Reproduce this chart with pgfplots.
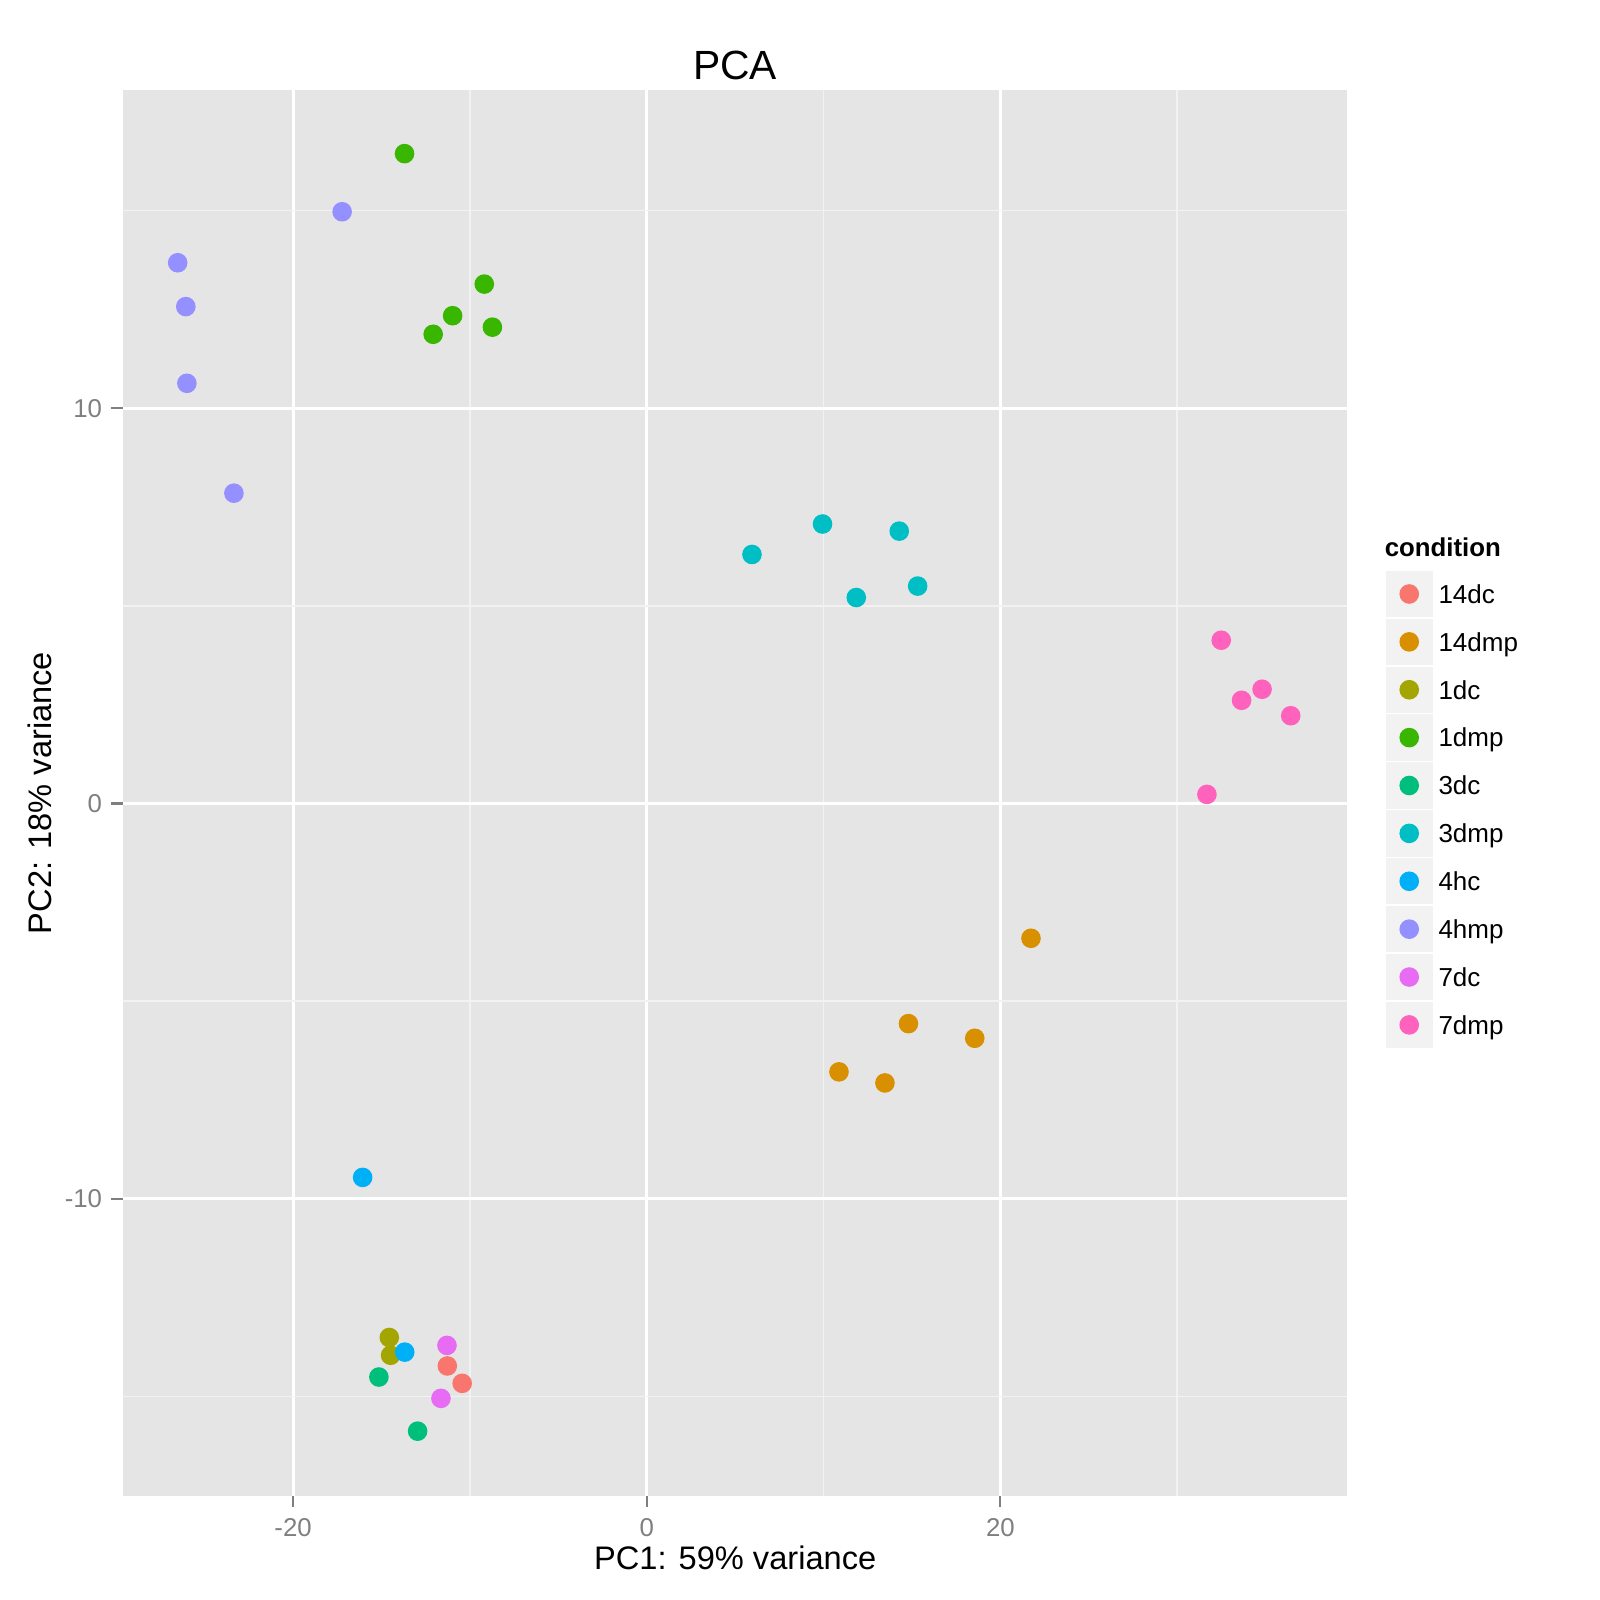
\documentclass[border=0pt]{standalone}
\usepackage{fontspec}
\setmainfont{Liberation Sans}
\usepackage{pgfplots}
\pgfplotsset{compat=1.18}
\definecolor{c14dc}{HTML}{F8766D}
\definecolor{c14dmp}{HTML}{D89000}
\definecolor{c1dc}{HTML}{A3A500}
\definecolor{c1dmp}{HTML}{39B600}
\definecolor{c3dc}{HTML}{00BF7D}
\definecolor{c3dmp}{HTML}{00BFC4}
\definecolor{c4hc}{HTML}{00B0F6}
\definecolor{c4hmp}{HTML}{9590FF}
\definecolor{c7dc}{HTML}{E76BF3}
\definecolor{c7dmp}{HTML}{FF62BC}
\definecolor{bgpanel}{HTML}{E5E5E5}
\definecolor{minorgrid}{HTML}{F2F2F2}
\definecolor{tickgray}{HTML}{7F7F7F}
\begin{document}
\begin{tikzpicture}
\path[use as bounding box] (0,0) rectangle (400pt,400pt);
\begin{axis}[
 scale only axis, width=306.2pt, height=351.5pt,
 at={(30.675pt,26pt)}, anchor=south west,
 xmin=-29.64, xmax=39.63, ymin=-17.52, ymax=18.05,
 axis background/.style={fill=bgpanel},
 axis line style={draw=none},
 xtick={-20,0,20}, xticklabels={-20,0,20},
 ytick={-10,0,10}, yticklabels={-10,0,10},
 minor xtick={-10,10,30}, minor ytick={-15,-5,5,15},
 grid=both,
 major grid style={white, line width=0.75pt},
 minor grid style={minorgrid, line width=0.4pt},
 tick align=outside, major tick length=2.8pt, minor tick length=0pt,
 xtick pos=bottom, ytick pos=left,
 major tick style={tickgray, line width=0.55pt},
 tick label style={font=\fontsize{6.45}{7}\selectfont, text=tickgray, inner sep=0pt},
 xticklabel shift=2.5pt, yticklabel shift=2.15pt,
 legend style={at={(1.0314,0.658)}, anchor=north west, draw=none, fill=none,
   inner sep=0pt, outer sep=0pt, row sep=0.4pt, column sep=1.5pt,
   nodes={inner sep=0pt, outer sep=0pt, text height=4.65pt, text depth=0pt, font=\fontsize{6.5}{7}\selectfont}},
 legend cell align=left,
 legend image code/.code={\fill[minorgrid] (-5.625pt,-5.585pt) rectangle (5.625pt,5.585pt); \fill[#1] (0pt,0pt) circle (2.25pt);},
 every axis plot/.append style={only marks, mark=*, mark size=2.25pt, mark options={draw=none}},
]
\addplot[color=c14dc] coordinates {(-11.28,-14.23) (-10.44,-14.67)};
\addlegendentry{14dc}
\addplot[color=c14dmp] coordinates {(21.73,-3.41) (14.80,-5.57) (18.55,-5.94) (10.87,-6.79) (13.47,-7.07)};
\addlegendentry{14dmp}
\addplot[color=c1dc] coordinates {(-14.56,-13.51) (-14.49,-13.96)};
\addlegendentry{1dc}
\addplot[color=c1dmp] coordinates {(-13.70,16.44) (-9.19,13.14) (-10.98,12.34) (-12.08,11.87) (-8.73,12.05)};
\addlegendentry{1dmp}
\addplot[color=c3dc] coordinates {(-15.15,-14.51) (-12.96,-15.88)};
\addlegendentry{3dc}
\addplot[color=c3dmp] coordinates {(5.95,6.30) (9.94,7.07) (14.28,6.89) (11.85,5.21) (15.32,5.50)};
\addlegendentry{3dmp}
\addplot[color=c4hc] coordinates {(-16.07,-9.46) (-13.69,-13.88)};
\addlegendentry{4hc}
\addplot[color=c4hmp] coordinates {(-26.53,13.68) (-26.07,12.57) (-26.01,10.63) (-23.35,7.85) (-17.23,14.97)};
\addlegendentry{4hmp}
\addplot[color=c7dc] coordinates {(-11.30,-13.71) (-11.64,-15.05)};
\addlegendentry{7dc}
\addplot[color=c7dmp] coordinates {(32.49,4.13) (33.64,2.61) (34.80,2.89) (36.42,2.22) (31.68,0.23)};
\addlegendentry{7dmp}
\end{axis}
\node[anchor=base, inner sep=0pt, font=\fontsize{10.2}{12}\selectfont] at (183.8pt,380pt) {PCA};
\node[anchor=base, inner sep=0pt, font=\fontsize{8.15}{9}\selectfont] at (183.8pt,7.7pt) {PC1: 59\% variance};
\node[anchor=base, rotate=90, inner sep=0pt, font=\fontsize{8.15}{9}\selectfont] at (12.9pt,201.75pt) {PC2: 18\% variance};
\node[anchor=base west, inner sep=0pt, font=\fontsize{6.45}{7}\selectfont\bfseries] at (346pt,260.8pt) {condition};
\end{tikzpicture}
\end{document}
